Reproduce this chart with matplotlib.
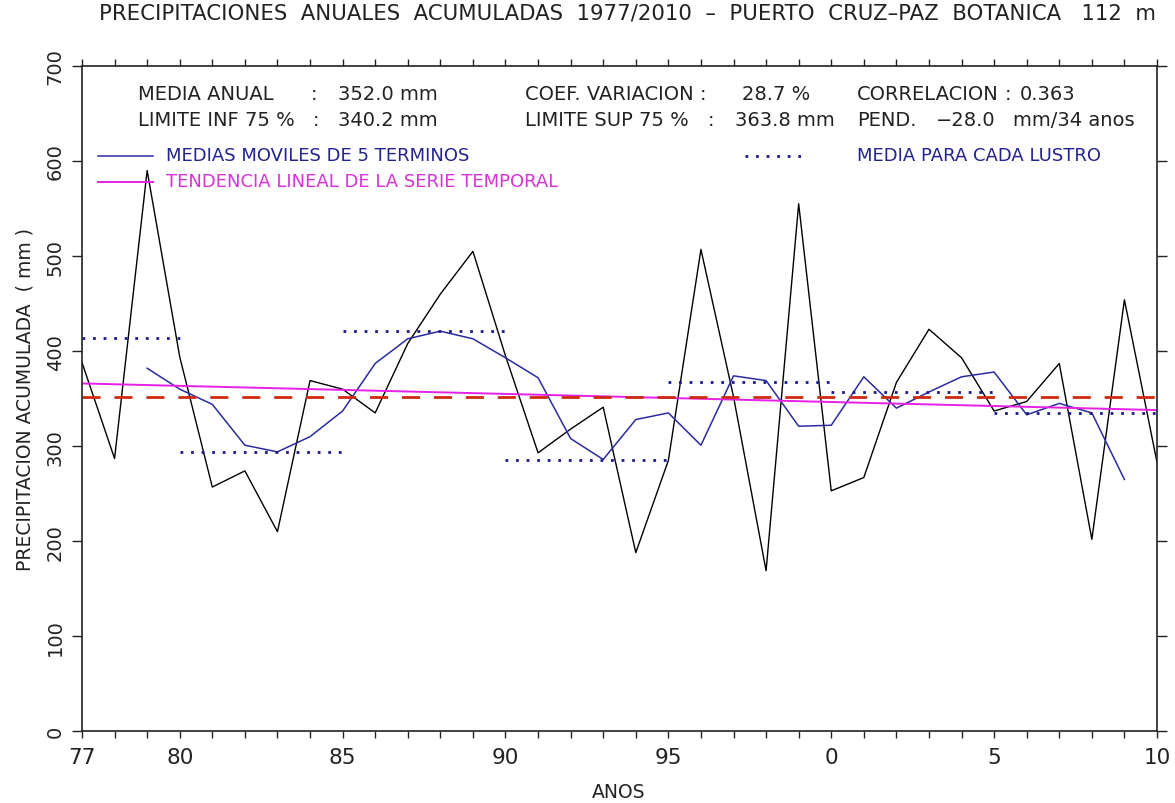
import matplotlib
matplotlib.use('Agg')
import matplotlib.pyplot as plt

# annual precipitation (mm), Puerto Cruz-Paz Botanica 1977-2010
years = list(range(1977, 2011))
rain = [388, 287, 590, 394, 257, 274, 210, 369, 360, 335,
        408, 460, 505, 395, 293, 318, 341, 188, 285, 507,
        352, 169, 555, 253, 267, 367, 423, 393, 337, 347,
        387, 202, 454, 283]

# 5-term moving average as drawn (1979-2009)
ma_years = list(range(1979, 2010))
ma_vals = [382, 360, 344, 301, 294, 310, 337, 387, 413, 421,
           413, 393, 372, 308, 286, 328, 335, 301, 374, 369,
           321, 322, 373, 340, 357, 373, 378, 333, 345, 335,
           265]

# mean for each lustro (start, end, value)
lustro_start = [1977, 1980, 1985, 1990, 1995, 2000, 2005]
lustro_end = [1980, 1985, 1990, 1995, 2000, 2005, 2010]
lustro_vals = [414, 294, 421, 285, 368, 357, 335]

mean_val = 352.0
trend_years = [1977, 2010]
trend_vals = [366, 338]

tick_years = [1977, 1980, 1985, 1990, 1995, 2000, 2005, 2010]
tick_labels = ['77', '80', '85', '90', '95', '0', '5', '10']

W, H = 1175, 804
INK = '#222222'
NAVY = '#23238f'
MAG = '#d633d6'


def fx(px):
    return px / W


def fy(py):
    return 1 - py / H


fig = plt.figure(figsize=(W / 100, H / 100), dpi=100)
ax = fig.add_axes([fx(82), fy(732.3), fx(1157) - fx(82), fy(67) - fy(732.3)])

ax.plot(years, rain, color='black', lw=1.0)
ax.plot(ma_years, ma_vals, color='#2b2ba0', lw=1.1)
ax.plot(trend_years, trend_vals, color='#e620e6', lw=1.4)
ax.plot([years[0], years[-1]], [mean_val, mean_val], color='#cf2a10', lw=2,
        dashes=(6.5, 5), dash_capstyle='butt')
for x0, x1, v in zip(lustro_start, lustro_end, lustro_vals):
    ax.plot([x0, x1], [v, v], color='#1a1a8a', lw=2.0, dashes=(1, 2.8),
            dash_capstyle='butt')

ax.set_xlim(1977, 2010)
ax.set_ylim(0, 700)
ax.set_xticks(years, minor=True)
ax.set_xticks(tick_years)
ax.set_xticklabels(tick_labels)
ax.set_yticks(range(0, 701, 100))
ax.tick_params(axis='x', which='both', direction='out', length=5, width=1,
               top=True, bottom=True, labelsize=15.5, pad=6, colors=INK)
ax.tick_params(axis='y', direction='out', length=7.5, width=1,
               left=True, right=True, labelsize=14, pad=5, colors=INK)
for lab in ax.get_yticklabels():
    lab.set_rotation(90)
    lab.set_va('center')
for s in ax.spines.values():
    s.set_linewidth(1.2)
    s.set_color(INK)

ax.set_ylabel('PRECIPITACION ACUMULADA  ( mm )', fontsize=13.5, color=INK, labelpad=8)
fig.text(fx(619), fy(793), 'ANOS', ha='center', va='center', fontsize=13.5, color=INK)

fig.text(fx(627), fy(13.5), 'PRECIPITACIONES  ANUALES  ACUMULADAS  1977/2010  \u2013  '
         'PUERTO  CRUZ\u2013PAZ  BOTANICA   112  m', ha='center', va='center',
         fontsize=15.3, color=INK)

# statistics block
stats = [
    (137.7, 94.3, 'MEDIA ANUAL'), (311, 94.3, ':'), (338, 94.3, '352.0 mm'),
    (137.7, 121, 'LIMITE INF 75 %'), (313, 121, ':'), (338, 121, '340.2 mm'),
    (525, 94.3, 'COEF. VARIACION'), (700, 94.3, ':'), (741.7, 94.3, '28.7 %'),
    (525, 121, 'LIMITE SUP 75 %'), (708, 121, ':'), (735, 121, '363.8 mm'),
    (856.7, 94.3, 'CORRELACION'), (1005, 94.3, ':'), (1020, 94.3, '0.363'),
    (856.7, 121, 'PEND.'), (936, 121, '\u221228.0'), (1013, 121, 'mm/34 anos'),
]
for x, y, s in stats:
    fig.text(fx(x), fy(y), s, ha='left', va='center', fontsize=14, color=INK)

# legend
fig.add_artist(plt.Line2D([fx(98), fx(153)], [fy(156.7), fy(156.7)], color='#2b2ba0', lw=1.1))
fig.text(fx(166), fy(156), 'MEDIAS MOVILES DE 5 TERMINOS', ha='left', va='center',
         fontsize=13, color=NAVY)
fig.add_artist(plt.Line2D([fx(98), fx(153)], [fy(183.3), fy(183.3)], color='#e620e6', lw=1.4))
fig.text(fx(166), fy(182.3), 'TENDENCIA LINEAL DE LA SERIE TEMPORAL', ha='left', va='center',
         fontsize=13, color=MAG)
fig.add_artist(plt.Line2D([fx(745), fx(807)], [fy(156.7), fy(156.7)], color='#1a1a8a', lw=2.0,
                          dashes=(1, 2.8), dash_capstyle='butt'))
fig.text(fx(856.7), fy(155.7), 'MEDIA PARA CADA LUSTRO', ha='left', va='center',
         fontsize=13, color=NAVY)

fig.savefig('out.png', dpi=100)
